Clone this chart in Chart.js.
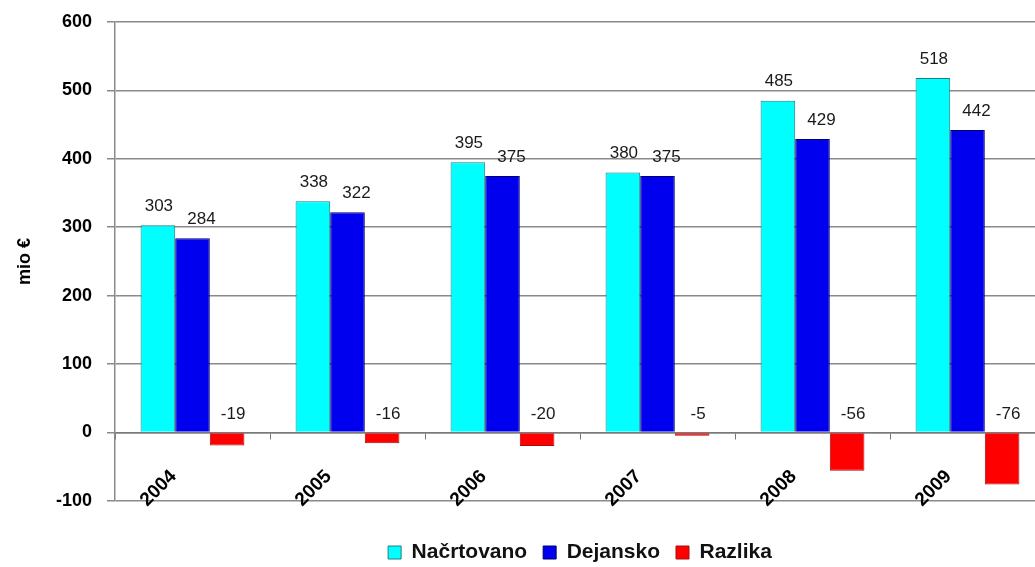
<!DOCTYPE html>
<html>
<head>
<meta charset="utf-8">
<script src="https://cdn.jsdelivr.net/npm/chart.js@4/dist/chart.umd.min.js"></script>
<style>
  html, body { margin: 0; padding: 0; background: #fff; overflow: hidden; }
  #wrap { width: 1050px; height: 567px; position: relative; }
</style>
</head>
<body>
<div id="wrap"><canvas id="budgetChart"></canvas></div>
<script>
const years = ['2004', '2005', '2006', '2007', '2008', '2009'];
const planned = [303, 338, 395, 380, 485, 518];
const actual = [284, 322, 375, 375, 429, 442];
const difference = [-19, -16, -20, -5, -56, -76];
const yTicks = [-100, 0, 100, 200, 300, 400, 500, 600];

const font = "'Liberation Sans', Arial, sans-serif";

// value labels above each bar (or above the zero line for negative bars)
const valueLabels = {
    id: 'valueLabels',
    afterDatasetsDraw(chart) {
        const ctx = chart.ctx;
        const shift = [1, 9, 6];
        ctx.save();
        ctx.font = '17px ' + font;
        ctx.fillStyle = '#1a1a1a';
        ctx.textAlign = 'center';
        ctx.textBaseline = 'middle';
        chart.data.datasets.forEach((ds, i) => {
            chart.getDatasetMeta(i).data.forEach((bar, j) => {
                const top = Math.min(bar.y, bar.base);
                ctx.fillText(ds.data[j], bar.x + shift[i], top - 19);
            });
        });
        ctx.restore();
    }
};

const ctx = document.getElementById('budgetChart').getContext('2d');
new Chart(ctx, {
    type: 'bar',
    data: {
        labels: years,
        datasets: [
            {
                label: 'Načrtovano',
                data: planned,
                backgroundColor: '#00ffff',
                borderColor: '#1a7f86',
                borderWidth: 1
            },
            {
                label: 'Dejansko',
                data: actual,
                backgroundColor: '#0000ee',
                borderColor: '#00006e',
                borderWidth: 1
            },
            {
                label: 'Razlika',
                data: difference,
                backgroundColor: '#ff0000',
                borderColor: '#a01010',
                borderWidth: 1
            }
        ]
    },
    options: {
        responsive: true,
        maintainAspectRatio: false,
        animation: false,
        datasets: {
            bar: { categoryPercentage: 0.67, barPercentage: 1.0 }
        },
        layout: { padding: { top: 22, right: 5, bottom: -6, left: 0 } },
        plugins: {
            legend: {
                position: 'bottom',
                fullSize: false,
                title: {
                    display: true,
                    text: ' ',
                    font: { family: font, size: 21 },
                    padding: 0
                },
                labels: {
                    font: { family: font, size: 21, weight: 'bold' },
                    color: '#111',
                    boxWidth: 13,
                    boxHeight: 13,
                    padding: 16,
                    useBorderRadius: false
                }
            },
            tooltip: { enabled: false }
        },
        scales: {
            x: {
                position: { y: 0 },
                grid: {
                    offset: true,
                    drawOnChartArea: false,
                    drawTicks: true,
                    tickLength: 6,
                    color: '#777'
                },
                border: { display: true, color: '#7a7a7a', width: 1.5 },
                ticks: {
                    minRotation: 45,
                    maxRotation: 45,
                    padding: 27,
                    labelOffset: -19,
                    font: { family: font, size: 19, weight: 'bold' },
                    color: '#000'
                }
            },
            y: {
                min: -100,
                max: 600,
                afterBuildTicks(scale) { scale.ticks = yTicks.map(v => ({ value: v })); },
                grid: {
                    color: '#8a8a8a',
                    lineWidth: 1.5,
                    tickLength: 8
                },
                border: { display: true, color: '#8a8a8a', width: 1.5 },
                ticks: {
                    padding: 15,
                    font: { family: font, size: 18, weight: 'bold' },
                    color: '#000'
                },
                title: {
                    display: true,
                    text: 'mio €',
                    font: { family: font, size: 18, weight: 'bold' },
                    color: '#000',
                    padding: { top: 14, bottom: 0 }
                },
                afterFit(scale) {
                    scale.width = 115;
                    scale.paddingTop = 0;
                    scale.paddingBottom = 0;
                }
            }
        }
    },
    plugins: [valueLabels]
});
</script>
</body>
</html>
